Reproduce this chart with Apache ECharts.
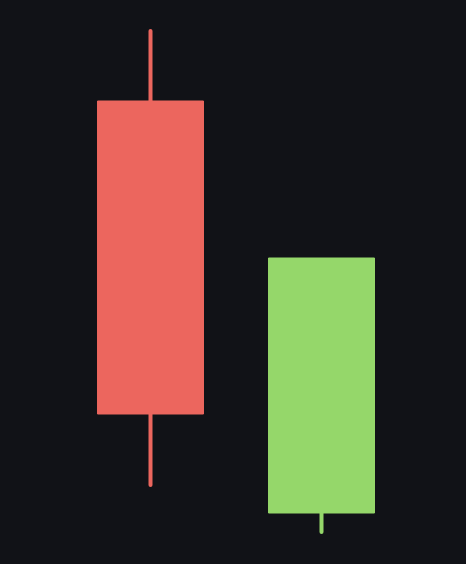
<!DOCTYPE html>
<html lang="en">

<head>
    <meta charset="UTF-8">
    <title>Candles</title>
    <script src="https://cdnjs.cloudflare.com/ajax/libs/echarts/6.0.0/echarts.min.js"></script>
    <style>
        html, body { margin: 0; padding: 0; background: #111217; }
        #main { width: 466px; height: 564px; }
    </style>
</head>

<body>
    <div id="main"></div>

    <script>
        // two candles: [open, close, low, high]
        const days = ["1", "2"];
        const opens = [46.3, 5.1];
        const closes = [15.0, 30.6];
        const lows = [7.9, 3.2];
        const highs = [53.3, 30.6];

        const upColor = "#95d76a";
        const downColor = "#ec665e";

        const chart = echarts.init(document.getElementById('main'));

        const data = days.map((d, i) => [i, opens[i], closes[i], lows[i], highs[i]]);

        function renderCandle(params, api) {
            const idx = api.value(0);
            const o = api.value(1), c = api.value(2), lo = api.value(3), hi = api.value(4);
            const color = c >= o ? upColor : downColor;
            const w = api.size([1, 0])[0] * 0.62;
            const top = api.coord([idx, Math.max(o, c)]);
            const bot = api.coord([idx, Math.min(o, c)]);
            const pHi = api.coord([idx, hi]);
            const pLo = api.coord([idx, lo]);
            const x = Math.round(top[0]) + 0.5;
            const wick = { stroke: color, lineWidth: 4, lineCap: 'round' };
            const kids = [];
            // only draw a wick where there is one, so the round cap does not poke out
            if (top[1] - pHi[1] > 1) {
                kids.push({ type: 'line', shape: { x1: x, y1: pHi[1], x2: x, y2: top[1] + 3 }, style: wick });
            }
            if (pLo[1] - bot[1] > 1) {
                kids.push({ type: 'line', shape: { x1: x, y1: bot[1] - 3, x2: x, y2: pLo[1] }, style: wick });
            }
            kids.push({
                type: 'rect',
                shape: { x: x - w / 2, y: top[1], width: w, height: bot[1] - top[1] },
                style: { fill: color, stroke: color, lineWidth: 1 }
            });
            return { type: 'group', children: kids };
        }

        chart.setOption({
            backgroundColor: '#111217',
            animation: false,
            grid: { left: 64.5, width: 342, top: 0, bottom: 0 },
            xAxis: {
                type: 'category',
                data: days,
                show: false
            },
            yAxis: {
                type: 'value',
                min: 0,
                max: 56.4,
                show: false
            },
            series: [
                {
                    type: 'custom',
                    renderItem: renderCandle,
                    encode: { x: 0, y: [1, 2, 3, 4] },
                    data: data
                }
            ]
        });
    </script>
</body>

</html>
